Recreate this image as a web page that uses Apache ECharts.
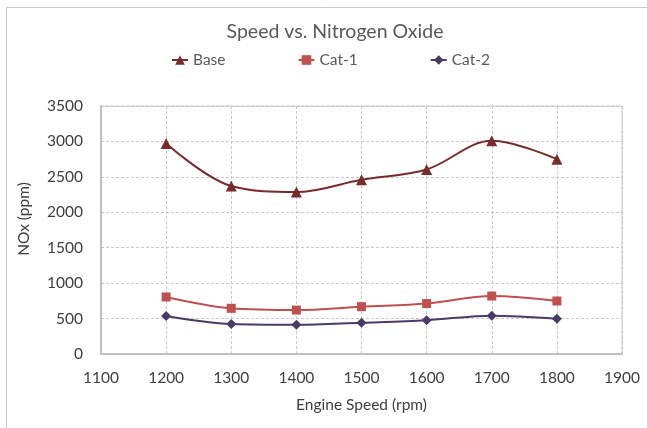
<!DOCTYPE html>
<html>
<head>
<meta charset="utf-8">
<script src="https://cdn.jsdelivr.net/npm/echarts@6/dist/echarts.min.js"></script>
<style>html,body{margin:0;padding:0;background:#fff;}#c{width:647px;height:428px;}</style>
</head>
<body>
<div id="c"></div>
<script>
const speeds = [1200, 1300, 1400, 1500, 1600, 1700, 1800];
const baseNOx = [2970, 2370, 2285, 2460, 2605, 3010, 2750];
const cat1NOx = [805, 645, 620, 668, 712, 818, 748];
const cat2NOx = [537, 425, 414, 442, 476, 541, 499];
const seriesNames = ['Base', 'Cat-1', 'Cat-2'];

const font = 'Lato, "Open Sans", sans-serif';
const toPairs = (xs, ys) => xs.map((x, i) => [x, ys[i]]);
const plain = v => String(v);

const chart = echarts.init(document.getElementById('c'), null, {renderer: 'canvas'});
chart.setOption({
  backgroundColor: '#ffffff',
  animation: false,
  textStyle: {fontFamily: font},
  graphic: [{
    type: 'rect', silent: true, z: -10,
    shape: {x: 6.5, y: 7.5, width: 700, height: 500},
    style: {fill: 'none', stroke: '#c8c8c8', lineWidth: 1}
  }],
  title: {
    text: 'Speed vs. Nitrogen Oxide',
    left: 330, top: 17, textAlign: 'center',
    textStyle: {fontFamily: font, fontSize: 19.5, fontWeight: 'normal', color: '#595959'}
  },
  legend: {
    left: 166, top: 47,
    itemWidth: 16, itemHeight: 12, itemGap: 72,
    textStyle: {fontFamily: font, fontSize: 15.5, color: '#595959'},
    data: seriesNames
  },
  grid: {
    left: 101, right: 25, top: 106, bottom: 74,
    show: true, borderColor: '#c8c8c8', borderWidth: 1
  },
  xAxis: {
    type: 'value', min: 1100, max: 1900, interval: 100,
    name: 'Engine Speed (rpm)', nameLocation: 'middle', nameGap: 43,
    nameTextStyle: {fontFamily: font, fontSize: 15.5, color: '#404040'},
    axisLine: {show: true, onZero: false, lineStyle: {color: '#bfbfbf', width: 2}},
    axisTick: {show: false},
    axisLabel: {margin: 16, fontFamily: font, fontSize: 15.5, color: '#404040', formatter: plain},
    splitLine: {show: true, lineStyle: {color: '#c8c8c8', type: [3, 2], width: 1}}
  },
  yAxis: {
    type: 'value', min: 0, max: 3500, interval: 500,
    name: 'NOx (ppm)', nameLocation: 'middle', nameGap: 69, nameRotate: 90,
    nameTextStyle: {fontFamily: font, fontSize: 15.5, color: '#404040', padding: [0, 0, 0, 22]},
    axisLine: {show: true, lineStyle: {color: '#bfbfbf', width: 2}},
    axisTick: {show: false},
    axisLabel: {margin: 18, fontFamily: font, fontSize: 15.5, color: '#404040', formatter: plain},
    splitLine: {show: true, lineStyle: {color: '#c8c8c8', type: [3, 2], width: 1}}
  },
  series: [
    {
      name: seriesNames[0], type: 'line', smooth: 0.35,
      data: toPairs(speeds, baseNOx),
      symbol: 'triangle', symbolSize: 11,
      itemStyle: {color: '#772C2A'},
      lineStyle: {color: '#772C2A', width: 2}
    },
    {
      name: seriesNames[1], type: 'line', smooth: 0.35,
      data: toPairs(speeds, cat1NOx),
      symbol: 'rect', symbolSize: 9,
      itemStyle: {color: '#C0504D'},
      lineStyle: {color: '#C0504D', width: 2}
    },
    {
      name: seriesNames[2], type: 'line', smooth: 0.35,
      data: toPairs(speeds, cat2NOx),
      symbol: 'diamond', symbolSize: 10,
      itemStyle: {color: '#4A3A68'},
      lineStyle: {color: '#4A3A68', width: 2}
    }
  ]
});
</script>
</body>
</html>
